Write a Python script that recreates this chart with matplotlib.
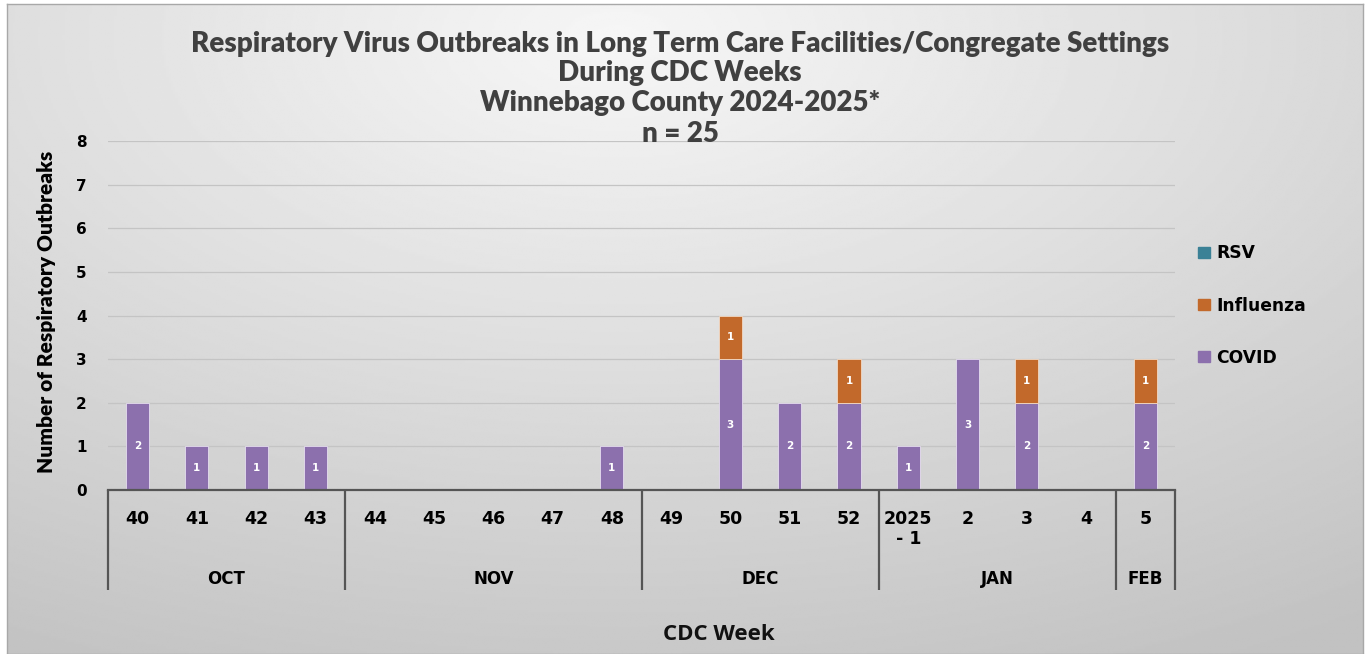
import numpy as np
import matplotlib
matplotlib.use("Agg")
import matplotlib.pyplot as plt
from matplotlib.patches import Patch
import matplotlib.transforms as mtransforms

# ---- data ----
weeks = ["40", "41", "42", "43", "44", "45", "46", "47", "48", "49", "50", "51", "52",
         "2025\n- 1", "2", "3", "4", "5"]
months = ["OCT", "NOV", "DEC", "JAN", "FEB"]
month_counts = [4, 5, 4, 4, 1]
covid = [2, 1, 1, 1, 0, 0, 0, 0, 1, 0, 3, 2, 2, 1, 3, 2, 0, 2]
influenza = [0, 0, 0, 0, 0, 0, 0, 0, 0, 0, 1, 0, 1, 0, 0, 1, 0, 1]
rsv = [0] * 18
colors = {"COVID": "#8c70ad", "Influenza": "#c2692b", "RSV": "#3b8196"}
title_lines = ["Respiratory Virus Outbreaks in Long Term Care Facilities/Congregate Settings",
               "During CDC Weeks", "Winnebago County 2024-2025*", "n = 25"]

W, H = 1366, 654
fig = plt.figure(figsize=(W / 100, H / 100), dpi=100)
fig.patch.set_facecolor("white")

# background gradient
bg = fig.add_axes([7 / W, 0, (1363 - 7) / W, 1 - 4 / H], zorder=-10)
yy, xx = np.mgrid[0:1:300j, 0:1:600j]
d = np.sqrt(((xx - 0.45) * 1.0) ** 2 + ((yy - 0.05) * 0.9) ** 2)
val = np.clip(0.965 - 0.21 * d, 0.76, 0.97)
bg.imshow(val, cmap="gray", vmin=0, vmax=1, aspect="auto", extent=[0, 1, 0, 1], origin="upper")
bg.set_xticks([]); bg.set_yticks([])
for s in bg.spines.values():
    s.set_color("#a8a8a8"); s.set_linewidth(1)

ax = fig.add_axes([108 / W, 1 - 490 / H, (1175 - 108) / W, (490 - 141) / H])
ax.set_facecolor("none")
x = np.arange(len(weeks))
bw = 0.39
cov = np.array(covid); flu = np.array(influenza); rs = np.array(rsv)
ax.bar(x, cov, bw, color=colors["COVID"], edgecolor="#e6ddf0",
       linewidth=[0.6 if v > 0 else 0 for v in cov], zorder=3)
ax.bar(x, flu, bw, bottom=cov, color=colors["Influenza"], edgecolor="#f3d9c4",
       linewidth=[0.6 if v > 0 else 0 for v in flu], zorder=3)
ax.bar(x, rs, bw, bottom=cov + flu, color=colors["RSV"], linewidth=0, zorder=3)

for i in range(len(weeks)):
    if cov[i] > 0:
        ax.text(x[i], cov[i] / 2, str(cov[i]), ha="center", va="center", color="white",
                fontsize=7.5, fontweight="bold", family="DejaVu Sans", zorder=4)
    if flu[i] > 0:
        ax.text(x[i], cov[i] + flu[i] / 2, str(flu[i]), ha="center", va="center", color="white",
                fontsize=7.5, fontweight="bold", family="DejaVu Sans", zorder=4)

ax.set_xlim(-0.5, len(weeks) - 0.5)
ax.set_ylim(0, 8)
ax.set_yticks(range(0, 9))
ax.set_yticklabels([str(v) for v in range(0, 9)], fontsize=11, fontweight="bold",
                   family="DejaVu Sans")
ax.tick_params(axis="y", length=0, pad=15.5)
ax.set_xticks([])
ax.grid(axis="y", color="#c4c4c4", linewidth=0.9, zorder=0)
ax.set_axisbelow(True)
for s in ["top", "right", "left"]:
    ax.spines[s].set_visible(False)
ax.spines["bottom"].set_color("#555555")
ax.spines["bottom"].set_linewidth(1.6)
ax.spines["bottom"].set_zorder(5)

trans = mtransforms.blended_transform_factory(ax.transData, ax.transAxes)
for i, w in enumerate(weeks):
    ax.text(x[i], -0.058, w, transform=trans, ha="center", va="top", fontsize=12.5,
            fontweight="bold", family="DejaVu Sans", linespacing=1.15)

bounds = np.concatenate([[0], np.cumsum(month_counts)]) - 0.5
for b in bounds:
    ax.plot([b, b], [0, -0.287], transform=trans, color="#555555", linewidth=1.6,
            clip_on=False, solid_capstyle="butt")
for m, c0, c1 in zip(months, bounds[:-1], bounds[1:]):
    ax.text((c0 + c1) / 2, -0.255, m, transform=trans, ha="center", va="center",
            fontsize=12, fontweight="bold", family="DejaVu Sans")

fig.text(47 / W, 1 - 312 / H, "Number of Respiratory Outbreaks", rotation=90,
         ha="center", va="center", fontsize=15, fontweight="heavy", family="Lato")

fig.text(719 / W, 1 - 635 / H, "CDC Week", ha="center", va="center", fontsize=16,
         fontweight="bold", family="Open Sans", color="#111111")

ty = [44, 73, 103, 134]
for t, yv in zip(title_lines, ty):
    fig.text(680 / W, 1 - yv / H, t, ha="center", va="center", fontsize=20,
             fontweight="heavy", family="Lato", color="#404040")

handles = [Patch(color=colors[n]) for n in ["RSV", "Influenza", "COVID"]]
fig.legend(handles, ["RSV", "Influenza", "COVID"], loc="upper left",
           bbox_to_anchor=(1183 / W, 1 - 229 / H), frameon=False,
           handlelength=0.7, handleheight=0.6, handletextpad=0.35,
           labelspacing=2.0, prop={"family": "DejaVu Sans", "weight": "bold", "size": 12.3})

fig.savefig("out.png", dpi=100)
